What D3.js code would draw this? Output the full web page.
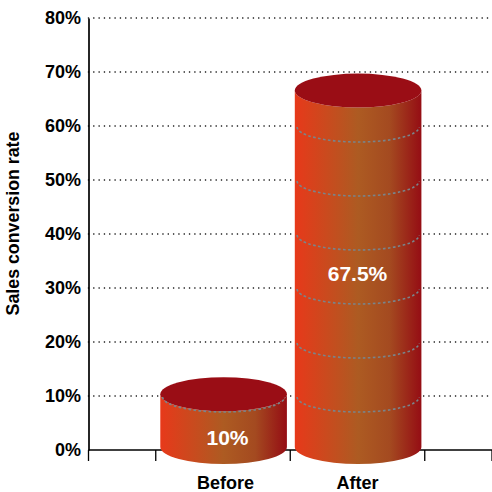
<!DOCTYPE html>
<html>
<head>
<meta charset="utf-8">
<script src="https://cdnjs.cloudflare.com/ajax/libs/d3/7.8.5/d3.min.js"></script>
<style>
html, body { margin: 0; padding: 0; background: #fff; }
svg { display: block; font-family: "Liberation Sans", Arial, sans-serif; font-weight: bold; }
</style>
</head>
<body>
<svg id="chart" width="492" height="492"></svg>
<script>
// Sales conversion before and after, drawn as two cylinders.
const categories = ["Before", "After"];
const values = [10, 67.5];
const valueLabels = ["10%", "67.5%"];
const yTicks = [0, 10, 20, 30, 40, 50, 60, 70, 80];
const yTitle = "Sales conversion rate";

const plotLeft = 88.5, plotRight = 492, plotTop = 18, axisY = 450;
const rx = 63.3, ry = 17;
const floorY = 447;           // centre of each cylinder's base ellipse
const barUnit = 5.28;         // cylinder height per percentage point
const barShift = 0.6;         // cylinders sit slightly right of their category position

const svg = d3.select("#chart");

const y = d3.scaleLinear().domain([0, 80]).range([axisY, plotTop]);
const h = d3.scaleLinear().domain([0, 80]).range([floorY, floorY - 80 * barUnit]);
const x = d3.scalePoint().domain(["start", ...categories, "end"]).range([plotLeft, plotRight]);
const tickX = d3.range(7).map(i => plotLeft + i * (plotRight - plotLeft) / 6);

const defs = svg.append("defs");
const grad = defs.append("linearGradient").attr("id", "side")
  .attr("x1", 0).attr("x2", 1).attr("y1", 0).attr("y2", 0);
[[0, "#e7391a"], [0.5, "#ad5b22"], [0.75, "#a44a20"], [1, "#950d14"]].forEach(([o, c]) =>
  grad.append("stop").attr("offset", o).attr("stop-color", c));

// Dotted horizontal grid
svg.append("g").selectAll("line").data(yTicks.slice(1)).join("line")
  .attr("x1", plotLeft).attr("x2", plotRight)
  .attr("y1", d => y(d)).attr("y2", d => y(d))
  .attr("stroke", "#000").attr("stroke-width", 1.6)
  .attr("stroke-linecap", "round").attr("stroke-dasharray", "0 5.32");

// Value axis
const yAxis = d3.axisLeft(y).tickValues(yTicks).tickFormat(d => d + "%").tickSize(0).tickPadding(7.5);
const yG = svg.append("g").attr("transform", `translate(${plotLeft},0)`).call(yAxis);
yG.select(".domain").attr("stroke", "#000").attr("stroke-width", 1.7);
yG.selectAll("text").attr("fill", "#000").attr("font-size", 18)
  .attr("font-family", '"Liberation Sans", Arial, sans-serif').attr("font-weight", "bold");

// Category axis baseline with its ticks
const xAxisG = svg.append("g");
xAxisG.append("line").attr("x1", plotLeft).attr("x2", plotRight)
  .attr("y1", axisY).attr("y2", axisY).attr("stroke", "#000").attr("stroke-width", 1.5);
xAxisG.selectAll("line.tick").data(tickX).join("line").attr("class", "tick")
  .attr("x1", d => d).attr("x2", d => d)
  .attr("y1", axisY).attr("y2", axisY + 11)
  .attr("stroke", "#000").attr("stroke-width", 1.3);

// Cylinders
const bars = svg.append("g").selectAll("g")
  .data(categories.map((c, i) => ({ c, v: values[i], label: valueLabels[i] })))
  .join("g");

bars.append("path")
  .attr("fill", "url(#side)")
  .attr("d", d => {
    const cx = x(d.c) + barShift, t = h(d.v);
    return `M${cx - rx},${t}L${cx - rx},${floorY}A${rx},${ry} 0 0 0 ${cx + rx},${floorY}L${cx + rx},${t}A${rx},${ry} 0 0 1 ${cx - rx},${t}Z`;
  });

bars.append("ellipse")
  .attr("cx", d => x(d.c) + barShift).attr("cy", d => h(d.v))
  .attr("rx", rx).attr("ry", ry).attr("fill", "#9a0d15");

// Dashed rings where the grid levels wrap around the front of each cylinder
bars.each(function (d) {
  const cx = x(d.c) + barShift;
  d3.select(this).selectAll("path.ring")
    .data(yTicks.filter(t => t > 0 && t <= d.v))
    .join("path").attr("class", "ring")
    .attr("fill", "none").attr("stroke", "#7a848a")
    .attr("stroke-width", 1.6).attr("stroke-dasharray", "2.6 2.4")
    .attr("d", t => `M${cx - 61},${y(t) + 1}A61,15 0 0 0 ${cx + 61},${y(t) + 1}`);
});

// Value labels on the front of each cylinder
const labelY = d3.scaleLinear().domain([10, 67.5]).range([444.5, 280.5]);
bars.append("text")
  .attr("x", d => x(d.c) + (d.v < 20 ? 4.5 : 0))
  .attr("y", d => labelY(d.v))
  .attr("text-anchor", "middle").attr("fill", "#fff").attr("font-size", 21)
  .text(d => d.label);

// Category labels
svg.append("g").selectAll("text").data(categories).join("text")
  .attr("x", (d, i) => x(d) + (i === 0 ? 2.5 : 0)).attr("y", 489)
  .attr("text-anchor", "middle").attr("fill", "#000").attr("font-size", 18)
  .text(d => d);

// Value axis title
svg.append("text")
  .attr("transform", "translate(18.5,223.5) rotate(-90)")
  .attr("text-anchor", "middle").attr("fill", "#000").attr("font-size", 17.8)
  .text(yTitle);
</script>
</body>
</html>
